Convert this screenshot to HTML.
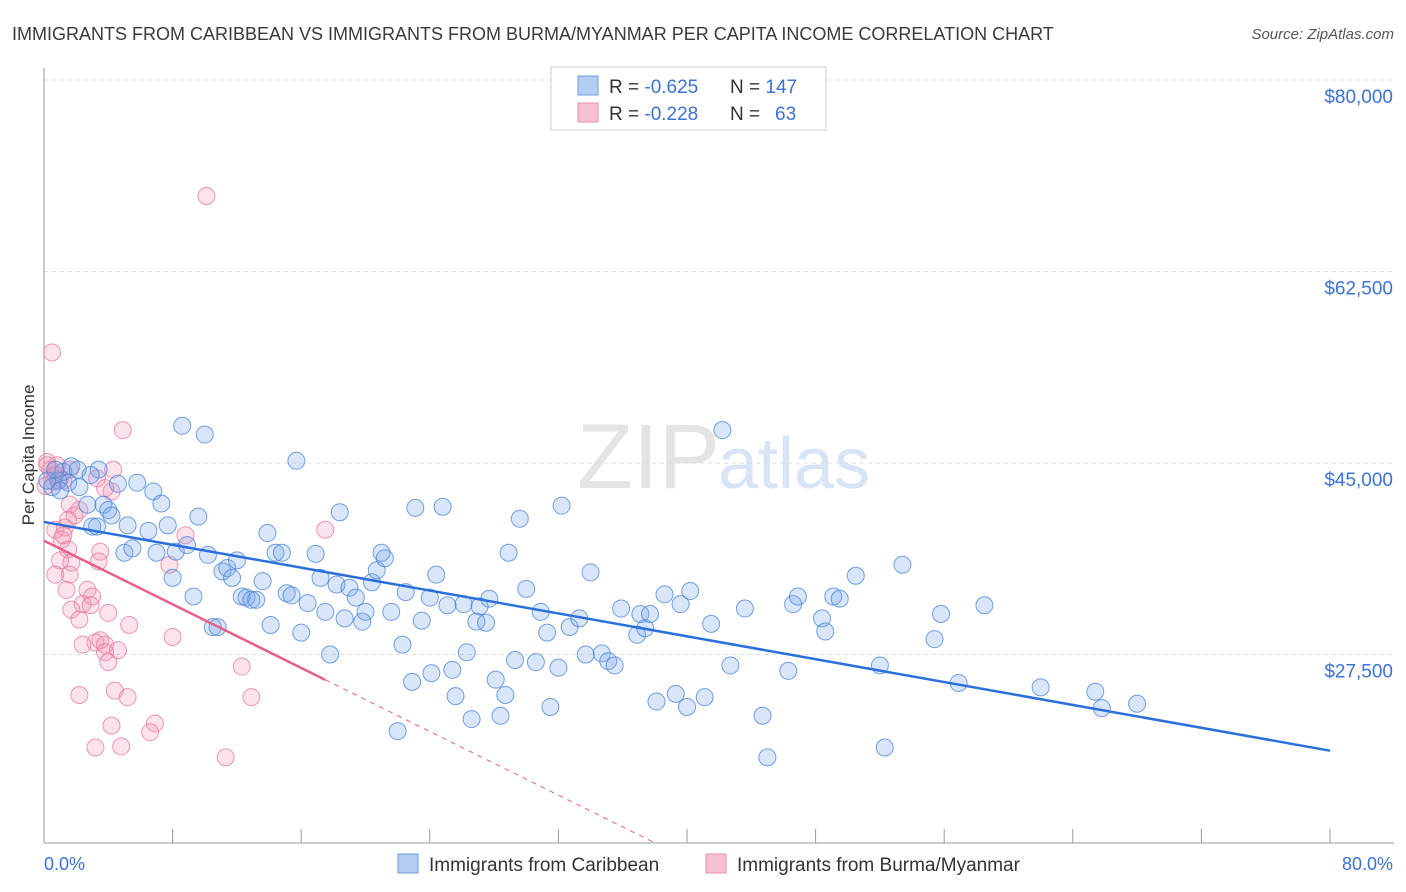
<!DOCTYPE html>
<html><head><meta charset="utf-8">
<style>
body{margin:0;background:#fff;font-family:"Liberation Sans",Arial,sans-serif;}
#wrap{position:relative;width:1406px;height:892px;overflow:hidden;}
svg text{font-family:"Liberation Sans",Arial,sans-serif;}
</style></head>
<body>
<div id="wrap">
<svg id="chart" width="1406" height="892">
<text x="12" y="40" font-size="18" fill="#3a3a3a">IMMIGRANTS FROM CARIBBEAN VS IMMIGRANTS FROM BURMA/MYANMAR PER CAPITA INCOME CORRELATION CHART</text>
<text x="1394" y="39" font-size="15" fill="#555" font-style="italic" text-anchor="end">Source: ZipAtlas.com</text>
<text x="720" y="488" font-size="92" fill="#e4e4e4" text-anchor="end" font-family="Liberation Serif">ZIP</text>
<text x="718" y="488" font-size="72" fill="#d6e4f5">atlas</text>
<g id="grid"></g>
<g id="pts"></g>
<g id="trend"></g>
<text transform="translate(34,455) rotate(-90)" font-size="17" fill="#333" text-anchor="middle">Per Capita Income</text>
<text x="44" y="870" font-size="18" fill="#3b72d9">0.0%</text>
<text x="1393" y="870" font-size="18" fill="#3b72d9" text-anchor="end">80.0%</text>
<g>
<rect x="551" y="67" width="275" height="63" fill="#fff" stroke="#ccc"/>
<rect x="578" y="76" width="20" height="19" fill="#b3cdf3" stroke="#6f9de3"/>
<rect x="578" y="103" width="20" height="19" fill="#f7c1d1" stroke="#e890ad"/>
<text x="609" y="93" font-size="19" fill="#333">R = <tspan fill="#3b72d9">-0.625</tspan><tspan x="730">N = </tspan><tspan fill="#3b72d9">147</tspan></text>
<text x="609" y="120" font-size="19" fill="#333">R = <tspan fill="#3b72d9">-0.228</tspan><tspan x="730">N = </tspan><tspan fill="#3b72d9" x="775">63</tspan></text>
</g>
<g>
<rect x="398" y="854" width="20" height="19" fill="#b3cdf3" stroke="#6f9de3"/>
<text x="429" y="871" font-size="19" fill="#333">Immigrants from Caribbean</text>
<rect x="706" y="854" width="20" height="19" fill="#f7c1d1" stroke="#e890ad"/>
<text x="737" y="871" font-size="19" fill="#333">Immigrants from Burma/Myanmar</text>
</g>
</svg>
</div>
<script>
const yTicks=[80000,62500,45000,27500];
const yTickLabels=["$80,000","$62,500","$45,000","$27,500"];
const xTicks=[0,8,16,24,32,40,48,56,64,72,80];
const blueX=[0.5,0.9,1.2,1.7,1.5,2.2,2.7,3.0,3.3,3.7,4.0,4.2,4.6,5.0,5.2,5.5,5.8,6.5,6.8,7.0,7.3,7.7,8.0,8.2,8.6,8.9,9.3,9.6,10.0,10.2,10.5,10.8,11.1,11.4,11.7,12.0,12.3,12.6,12.9,13.2,13.6,13.9,14.1,14.4,14.8,15.1,15.4,15.7,16.0,16.4,16.9,17.2,17.5,17.8,18.2,18.4,18.7,19.0,19.4,19.8,20.0,20.4,20.7,21.0,21.2,21.6,22.0,22.3,22.5,22.9,23.1,23.5,24.0,24.1,24.4,24.8,25.1,25.4,25.6,26.1,26.3,26.6,26.9,27.1,27.5,27.7,28.1,28.4,28.7,28.9,29.3,29.6,30.0,30.6,30.9,31.3,31.5,32.0,32.2,32.7,33.3,33.7,34.0,34.7,35.1,35.5,35.9,36.9,37.1,37.4,37.7,38.1,38.6,39.3,39.6,40.0,40.2,41.1,41.5,42.2,42.7,43.6,44.7,45.0,46.3,46.6,46.9,48.4,48.6,49.1,49.5,50.5,52.0,52.3,53.4,55.4,55.8,56.9,58.5,62.0,65.4,65.8,68.0,0.2,0.7,1.0,2.1,3.4,2.9];
const blueY=[42800,43400,44200,44700,43200,42800,41200,39200,39200,41200,40700,40200,43100,36800,39300,37200,43200,38800,42400,36800,41300,39300,34500,36900,48400,37500,32800,40100,47600,36600,30000,30000,35100,35400,34500,36100,32800,32700,32500,32500,34200,38600,30200,36800,36800,33100,32900,45200,29500,32200,36700,34500,31400,27500,33900,40500,30800,33600,32700,30500,31400,34100,35200,36800,36300,31400,20500,28400,33200,25000,40900,30600,32700,25800,34800,41000,32000,26100,23700,32100,27700,21600,30500,31900,30400,32600,25200,21900,23800,36800,27000,39900,33500,26800,31400,29500,22700,26300,41100,30000,30800,27500,35000,27600,26900,26500,31700,29300,31200,29900,31200,23200,33000,23900,32100,22700,33300,23600,30300,48000,26500,31700,21900,18100,26000,32100,32800,30800,29600,32800,32600,34700,26500,19000,35700,28900,31200,24900,32000,24500,24100,22600,23000,43400,44400,42500,44400,44400,43900];
const pinkX=[0.5,10.1,4.9,0.2,0.4,0.7,1.0,3.3,4.2,1.6,1.9,2.2,0.7,1.3,1.1,1.5,3.5,1.7,1.0,3.4,0.7,1.6,7.8,17.5,8.8,1.4,2.7,3.0,2.4,1.7,2.9,4.0,2.2,5.3,3.5,3.2,3.8,4.6,3.8,4.0,2.4,8.0,12.3,2.2,4.4,5.2,12.9,4.2,6.9,6.6,3.2,4.8,11.3,3.8,1.2,1.6,0.8,0.2,0.6,0.1,4.3,1.5,1.2];
const pinkY=[55100,69400,48000,45100,44400,43900,43600,43600,42400,41200,40200,40700,38900,39100,38000,37100,36900,35900,36100,36000,34800,34800,35700,38900,38400,33400,33400,32800,32100,31600,32000,31300,30700,30200,28800,28600,28400,27900,27700,26800,28400,29100,26400,23800,24200,23600,23600,21000,21200,20400,19000,19100,18100,42700,43400,44400,44800,44800,43300,42900,44400,39800,38400];

const NS="http://www.w3.org/2000/svg";
const X0=44,X1=1330,YTOP=80,YBOT=843;
function sx(p){return X0+(p/80)*(X1-X0);}
function sy(v){return YTOP+(80000-v)*191.5/17500;}
function mk(tag,attrs,parent){const e=document.createElementNS(NS,tag);for(const k in attrs)e.setAttribute(k,attrs[k]);parent.appendChild(e);return e;}
const grid=document.getElementById('grid');
yTicks.forEach((v,i)=>{
  const l=mk('line',{x1:X0,x2:1394,y1:sy(v),y2:sy(v),stroke:'#ddd','stroke-dasharray':'4,4'},grid);
  
  
  const t=mk('text',{x:1393,y:sy(v)+23,'font-size':19,fill:'#3b72d9','text-anchor':'end'},grid);
  
  
  t.textContent=yTickLabels[i];
});
const ax=mk('line',{x1:X0,x2:X0,y1:68,y2:YBOT,stroke:'#999'},grid);


const bx=mk('line',{x1:X0,x2:1394,y1:YBOT,y2:YBOT,stroke:'#999'},grid);


xTicks.forEach(p=>{
  const t=mk('line',{x1:sx(p),x2:sx(p),y1:YBOT,y2:YBOT-14,stroke:'#999'},grid);
  
  
});
const pts=document.getElementById('pts');
pinkX.forEach((x,i)=>{
  const c=mk('circle',{cx:sx(x),cy:sy(pinkY[i]),r:8.5,fill:'rgba(244,150,180,0.28)',stroke:'rgba(230,120,155,0.75)','stroke-width':1},pts);
  
  
});
blueX.forEach((x,i)=>{
  const c=mk('circle',{cx:sx(x),cy:sy(blueY[i]),r:8.5,fill:'rgba(120,165,235,0.28)',stroke:'rgba(70,130,220,0.75)','stroke-width':1},pts);
  
  
});
function fit(xs,ys){const n=xs.length;let mx=0,my=0;for(let i=0;i<n;i++){mx+=xs[i];my+=ys[i];}mx/=n;my/=n;let a=0,b=0;for(let i=0;i<n;i++){a+=(xs[i]-mx)*(ys[i]-my);b+=(xs[i]-mx)**2;}const s=a/b;return [s,my-s*mx];}
const tr=document.getElementById('trend');
const [bs,bi]=fit(blueX,blueY);
const bl=mk('line',{x1:sx(0),y1:sy(bi),x2:sx(80),y2:sy(bi+bs*80),stroke:'#2a6fdb','stroke-width':2.5},tr);


const [ps,pi]=fit(pinkX,pinkY);
const pmax=Math.max(...pinkX);
const pl=mk('line',{x1:sx(0),y1:sy(pi),x2:sx(pmax),y2:sy(pi+ps*pmax),stroke:'#e8608a','stroke-width':2.5},tr);


let xe=80,ye=pi+ps*80;const vb=80000-(YBOT-YTOP)*17500/191.5;
if(ye<vb){xe=(vb-pi)/ps;ye=vb;}
const pd=mk('line',{x1:sx(pmax),y1:sy(pi+ps*pmax),x2:sx(xe),y2:sy(ye),stroke:'#e8608a','stroke-width':1,'stroke-dasharray':'5,5'},tr);


</script>
</body></html>
